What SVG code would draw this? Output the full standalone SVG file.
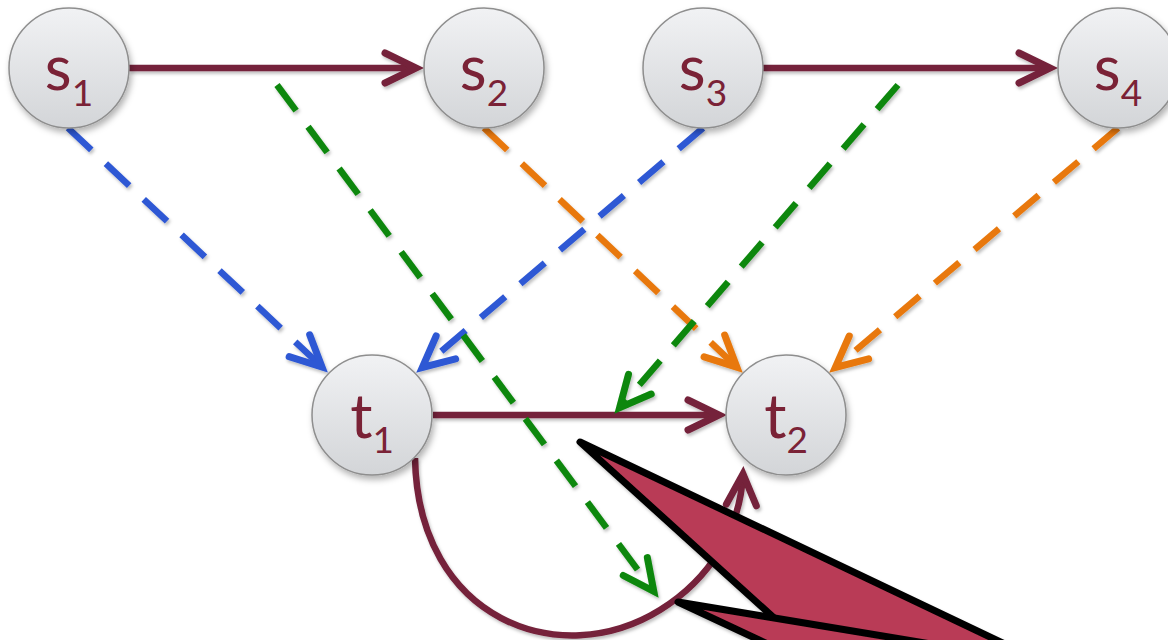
<svg xmlns="http://www.w3.org/2000/svg" width="1168" height="640" viewBox="0 0 1168 640">
<defs>
<linearGradient id="nodeGrad" x1="0" y1="0" x2="0" y2="1">
<stop offset="0" stop-color="#F1F2F4"/>
<stop offset="1" stop-color="#D3D5D8"/>
</linearGradient>
<filter id="nodeShadow" x="-30%" y="-30%" width="160%" height="160%">
<feDropShadow dx="2" dy="4" stdDeviation="3" flood-color="#000" flood-opacity="0.3"/>
</filter>
<filter id="lineShadow" x="-10%" y="-10%" width="120%" height="120%">
<feDropShadow dx="1.5" dy="2.5" stdDeviation="1.5" flood-color="#000" flood-opacity="0.25"/>
</filter>
<marker id="arrMaroon" markerUnits="userSpaceOnUse" viewBox="-45 -25 55 50" markerWidth="55" markerHeight="50" refX="0" refY="0" orient="auto">
<path d="M -31 -15 L 0 0 L -31 15" fill="none" stroke="#74213A" stroke-width="7" stroke-linecap="round" stroke-linejoin="miter"/>
</marker>
<marker id="arrBlue" markerUnits="userSpaceOnUse" viewBox="-45 -25 55 50" markerWidth="55" markerHeight="50" refX="0" refY="0" orient="auto">
<path d="M -31 -15 L 0 0 L -31 15" fill="none" stroke="#2E58D4" stroke-width="7" stroke-linecap="round" stroke-linejoin="miter"/>
</marker>
<marker id="arrGreen" markerUnits="userSpaceOnUse" viewBox="-45 -25 55 50" markerWidth="55" markerHeight="50" refX="0" refY="0" orient="auto">
<path d="M -31 -15 L 0 0 L -31 15" fill="none" stroke="#0A870A" stroke-width="7" stroke-linecap="round" stroke-linejoin="miter"/>
</marker>
<marker id="arrOrange" markerUnits="userSpaceOnUse" viewBox="-45 -25 55 50" markerWidth="55" markerHeight="50" refX="0" refY="0" orient="auto">
<path d="M -31 -15 L 0 0 L -31 15" fill="none" stroke="#E8780A" stroke-width="7" stroke-linecap="round" stroke-linejoin="miter"/>
</marker>
</defs>
<style>
.node circle { fill: url(#nodeGrad); stroke: #8E8E8E; stroke-width: 1.5; filter: url(#nodeShadow); }
.node text { font-family: Lato, "Open Sans", "Liberation Sans", sans-serif; font-size: 62px; fill: #7A2236; text-anchor: middle; }
.node tspan { font-size: 37px; }
.solid { fill: none; stroke: #74213A; stroke-width: 6.5; marker-end: url(#arrMaroon); }
.dash { fill: none; stroke-width: 6.5; stroke-dasharray: 32 20; }
.blue { stroke: #2E58D4; marker-end: url(#arrBlue); }
.green { stroke: #0A870A; marker-end: url(#arrGreen); }
.orange { stroke: #E8780A; marker-end: url(#arrOrange); }
.callout { fill: #B93B56; stroke: #000; stroke-width: 7; stroke-linejoin: round; filter: url(#lineShadow); }
</style>
<g id="connectors" filter="url(#lineShadow)">
<path class="solid" d="M 129 68 L 416 68"/>
<path class="solid" d="M 763 68 L 1050 68"/>
<path class="solid" d="M 433 415 L 719 415"/>
<path class="solid" d="M 415 458 C 418 620, 560 672, 660 610 C 710 579, 740 530, 743 474"/>
<path class="dash blue" d="M 68 128 L 322 367"/>
<path class="dash blue" d="M 703 128 L 422.3 367.5"/>
<path class="dash orange" d="M 484 128 L 736.9 367.2"/>
<path class="dash orange" d="M 1118 128 L 835.3 367.5"/>
<path class="dash green" d="M 277 85 L 653.8 591.4"/>
<path class="dash green" d="M 898 85 L 619.6 407.7"/>
</g>
<g id="s1" class="node"><circle cx="69" cy="68" r="60"/><text x="69" y="90">s<tspan dy="16">1</tspan></text></g>
<g id="s2" class="node"><circle cx="484" cy="68" r="60"/><text x="484" y="90">s<tspan dy="16">2</tspan></text></g>
<g id="s3" class="node"><circle cx="703" cy="68" r="60"/><text x="703" y="90">s<tspan dy="16">3</tspan></text></g>
<g id="s4" class="node"><circle cx="1118" cy="68" r="60"/><text x="1118" y="90">s<tspan dy="16">4</tspan></text></g>
<g id="t1" class="node"><circle cx="372" cy="415" r="60"/><text x="372" y="438">t<tspan dy="15">1</tspan></text></g>
<g id="t2" class="node"><circle cx="786" cy="415" r="60"/><text x="786" y="438">t<tspan dy="15">2</tspan></text></g>
<g id="callouts">
<polygon class="callout" points="580,442 1030,656 816,656"/>
<polygon class="callout" points="678,602 1220,692 806,662"/>
</g>
</svg>
